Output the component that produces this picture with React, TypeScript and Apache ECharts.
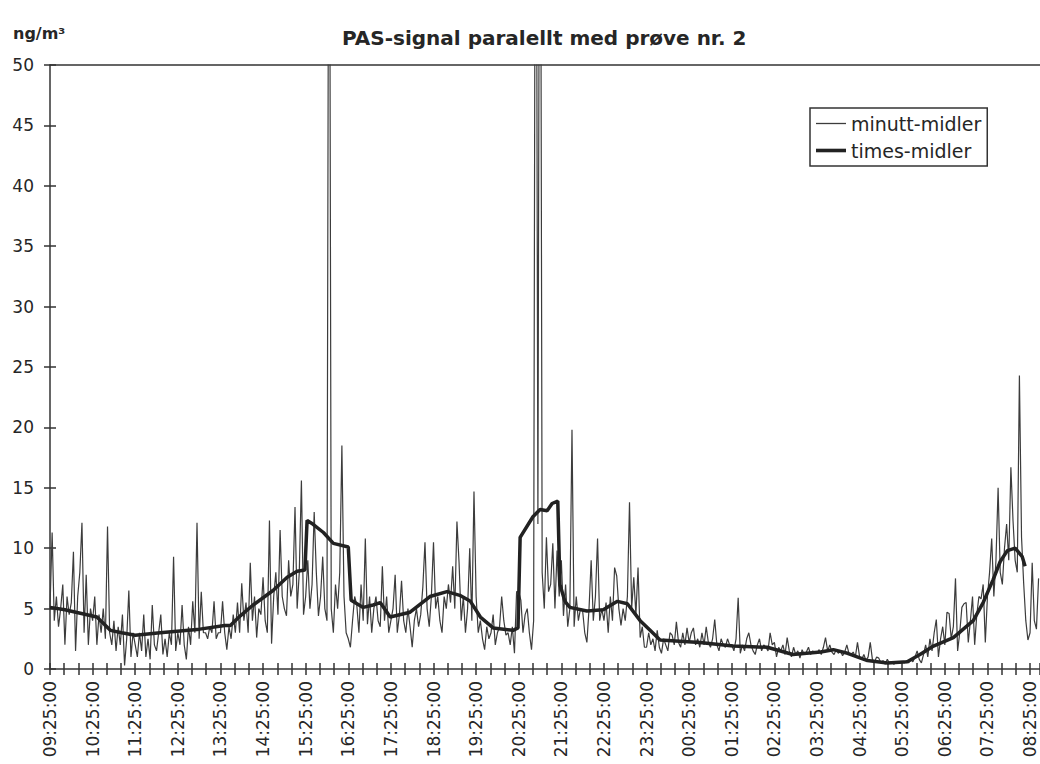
import React, { useEffect, useRef } from "react";
import * as echarts from "echarts";

const titleText = "PAS-signal paralellt med prøve nr. 2";
const unitText = "ng/m³";
const seriesNames = ["minutt-midler", "times-midler"];
const startClockMinutes = 9 * 60 + 25; // 09:25:00
const minuteStep = 3; // spacing (minutes) of the values
const axisMaxMinutes = 1394;
const tickEveryMinutes = 20;
const yMax = 50;
const yStep = 5;

// minutt-midler, one row per hour starting 09:25
const minuteValues = [
  5, 11.3, 4, 6, 3.5, 5, 7, 2, 6, 4.5, 5.5, 9.7, 1.5, 6, 8, 12.1, 3, 7.8, 2, 5,
  4, 6, 2, 4.5, 3, 5, 2.5, 11.8, 3, 2, 4, 1.5, 3.5, 2, 4.5, 0.3, 2.5, 6.5, 1, 3,
  2, 1, 3, 1.5, 4.5, 1, 2.5, 0.8, 5.3, 2, 1.5, 3, 4.5, 1.2, 2.5, 1, 3, 2, 9.3, 1.5,
  3, 2, 5.3, 2, 0.8, 3.5, 2, 5.6, 3, 12.1, 2.5, 6.4, 3, 3, 2.5, 3.5, 3, 5.6, 2.5, 3,
  3, 5.6, 3, 1.6, 3.5, 2.5, 4.5, 3, 5.5, 3, 7.1, 4, 5.5, 3, 8.8, 4, 6, 2.6, 5, 4.5,
  7.6, 4, 3, 12.3, 2.1, 6, 8, 4.5, 11.5, 6, 5, 4.4, 9, 6, 7, 13.4, 5, 8, 15.6, 4.5,
  6, 9, 5, 7, 13, 8, 4.4, 6, 9.3, 5, 4, 85, 5, 3, 7, 5, 8, 18.5, 6, 3,
  2.5, 1.8, 4, 6, 5.3, 3, 7, 4, 10.8, 3.7, 6, 3, 5, 6, 4, 3.5, 8.5, 4, 6, 3,
  4, 5, 7.8, 3, 4.5, 7.3, 4, 3, 5, 3.5, 1.8, 4, 5, 3.5, 4.5, 6.8, 10.5, 5, 3.5, 6,
  10.5, 5, 6, 4, 3, 6, 5, 7, 5.5, 8.5, 5, 12.2, 8.8, 4, 6, 3, 5, 10, 4, 14.7,
  6, 3, 4, 2.5, 1.6, 3.5, 2.5, 3, 4.5, 2, 3, 3.5, 6, 4, 2.8, 3, 2, 3.5, 1.3, 6.4,
  6.4, 5.7, 3, 4.5, 5, 3, 1.6, 4, 90, 12, 90, 8, 5, 10.9, 6.4, 7, 10.4, 5, 9.8, 6,
  9, 4.4, 7, 3.5, 5, 19.8, 3.5, 6, 4, 5, 4.8, 3, 2.2, 5, 9, 4, 6, 10.8, 4, 5,
  4, 5.5, 3, 6, 4, 8.4, 7.7, 5, 3.6, 5, 4, 6, 13.8, 5, 7.6, 4.5, 8.4, 2.6, 3.5, 1.8,
  1.8, 3, 2, 2.5, 1.5, 3.2, 1.8, 1.3, 2.5, 2, 1.5, 3, 2.8, 2, 3.9, 2.2, 1.8, 3, 2, 3.4,
  2.2, 3, 3.4, 2, 2.5, 1.8, 3, 2, 3.5, 2.2, 1.8, 2.5, 4.1, 2, 1.5, 2.5, 2, 1.8, 2.5, 2,
  2, 1.5, 2.5, 5.9, 1.3, 2, 1.5, 2.5, 3, 2, 1.5, 1.2, 2, 2.5, 1.5, 2, 1.8, 1.5, 3, 2,
  2.2, 1, 1.8, 1.5, 2, 1.2, 2.6, 1.5, 1, 1.8, 1.2, 1.5, 0.9, 1.6, 1.2, 1.4, 1.8, 1.2, 1.5, 1.3,
  1.3, 1.6, 1.2, 1.8, 2.6, 1.5, 2, 1.4, 1.2, 1.6, 1.3, 1.5, 1.1, 1.4, 2, 1.3, 1.2, 1.4, 1, 2.2,
  1, 0.8, 1.2, 0.7, 1, 2.2, 0.8, 0.6, 1, 0.9, 0.5, 0.7, 0.4, 0.8, 0.5, 0.6, 0.4, 0.5, 0.6, 0.5,
  0.6, 0.5, 0.7, 0.5, 0.8, 0.6, 1, 1.5, 0.8, 0.5, 1.2, 2, 1, 2.5, 1.5, 3, 4.1, 1, 2.5, 3.5,
  2, 4.7, 4.6, 2.5, 3.5, 7.5, 1.5, 3, 5.1, 5.4, 5.5, 2.2, 4, 6, 2, 4.5, 6, 5.8, 7, 2.2,
  6, 8, 10.8, 6, 9, 15, 8, 7, 10, 12, 9, 16.7, 12.3, 9, 8, 24.3, 10.9, 7.1, 4, 2.4,
  3, 8.8, 4, 3.3, 7.5,
];

// times-midler: minutes after 09:25 and values
const hourTimes = [
  0, 21, 66, 85, 101, 120, 155, 211, 246, 254, 268, 286, 314, 334, 348, 359, 362, 370,
  385, 399, 420, 424, 441, 455, 465, 479, 507, 535, 559, 577, 592, 606, 624, 652, 659,
  662, 680, 690, 700, 707, 715, 718, 725, 732, 756, 779, 799, 813, 831, 845, 859, 915,
  962, 1010, 1046, 1085, 1103, 1123, 1151, 1179, 1207, 1225, 1244, 1272, 1300, 1314,
  1328, 1338, 1348, 1359, 1369, 1373,
];
const hourValues = [
  5.1, 4.9, 4.3, 3.2, 3.0, 2.8, 3.0, 3.3, 3.6, 3.6, 4.4, 5.3, 6.5, 7.6, 8.1, 8.2, 12.3, 12.0,
  11.3, 10.4, 10.1, 5.7, 5.1, 5.3, 5.5, 4.3, 4.7, 6.0, 6.4, 6.1, 5.6, 4.3, 3.4, 3.2, 3.4,
  10.9, 12.6, 13.2, 13.1, 13.7, 13.9, 7.0, 5.6, 5.1, 4.8, 4.9, 5.6, 5.4, 4.0, 3.2, 2.4, 2.2,
  1.9, 1.8, 1.2, 1.4, 1.6, 1.3, 0.7, 0.5, 0.6, 1.2, 1.9, 2.6, 4.0, 5.5,
  7.4, 8.9, 9.8, 10.0, 9.3, 8.5,
];

const FONT = "'DejaVu Sans', Arial, sans-serif";
const INK = "#262626";
const AXIS = "#333333";
const THIN = "#3c3c3c";
const THICK = "#222222";

function pad(n: number) {
  return n < 10 ? "0" + n : String(n);
}

function clockLabel(v: number) {
  if (v % 60 !== 0) return "";
  const m = (startClockMinutes + v) % 1440;
  return `${pad(Math.floor(m / 60))}:${pad(m % 60)}:00`;
}

export default function App() {
  const ref = useRef<HTMLDivElement>(null);

  useEffect(() => {
    if (!ref.current) return;
    const chart = echarts.init(ref.current, undefined, { renderer: "svg" });

    const minuteData = minuteValues.map((v, i) => [i * minuteStep, v]);
    const hourData = hourValues.map((v, i) => [hourTimes[i], v]);

    const baseX = {
      type: "value" as const,
      min: 0,
      max: axisMaxMinutes,
      interval: tickEveryMinutes,
      splitLine: { show: false },
    };
    const baseY = {
      type: "value" as const,
      min: 0,
      max: yMax,
      interval: yStep,
      splitLine: { show: false },
    };

    chart.setOption({
      animation: false,
      backgroundColor: "#ffffff",
      title: [
        {
          text: titleText,
          left: 342,
          top: 28,
          padding: 0,
          textStyle: { fontFamily: FONT, fontWeight: "bold", fontSize: 20, color: INK },
        },
        {
          text: unitText,
          left: 13,
          top: 25,
          padding: 0,
          textStyle: { fontFamily: FONT, fontWeight: "bold", fontSize: 16, color: INK },
        },
      ],
      legend: {
        data: [
          { name: seriesNames[0], icon: "path://M0,0H30V1.3H0Z" },
          { name: seriesNames[1], icon: "path://M0,0H30V3.6H0Z" },
        ],
        orient: "vertical",
        left: 810,
        top: 108,
        padding: [6, 6, 6, 6],
        itemGap: 8,
        itemWidth: 30,
        itemHeight: 14,
        symbolKeepAspect: true,
        borderColor: AXIS,
        borderWidth: 1.5,
        textStyle: { fontFamily: FONT, fontSize: 19, color: INK },
      },
      grid: { left: 50, right: 0, top: 65, bottom: 95 },
      xAxis: [
        {
          ...baseX,
          position: "bottom",
          axisLine: { show: true, onZero: false, lineStyle: { color: AXIS, width: 1.5 } },
          axisTick: { show: true, inside: false, length: 6, lineStyle: { color: AXIS, width: 1.5 } },
          axisLabel: {
            rotate: 90,
            margin: 12,
            fontFamily: FONT,
            fontSize: 17,
            color: INK,
            formatter: clockLabel,
          },
        },
        {
          ...baseX,
          position: "bottom",
          axisLine: { show: false, onZero: false },
          axisTick: { show: true, inside: true, length: 6, lineStyle: { color: AXIS, width: 1.5 } },
          axisLabel: { show: false },
        },
        {
          ...baseX,
          position: "top",
          axisLine: { show: true, onZero: false, lineStyle: { color: AXIS, width: 1.5 } },
          axisTick: { show: false },
          axisLabel: { show: false },
        },
      ],
      yAxis: [
        {
          ...baseY,
          position: "left",
          axisLine: { show: true, onZero: false, lineStyle: { color: AXIS, width: 1.5 } },
          axisTick: { show: true, inside: false, length: 6, lineStyle: { color: AXIS, width: 1.5 } },
          axisLabel: { margin: 16, fontFamily: FONT, fontSize: 17, color: INK },
        },
        {
          ...baseY,
          position: "left",
          axisLine: { show: false, onZero: false },
          axisTick: { show: true, inside: true, length: 6, lineStyle: { color: AXIS, width: 1.5 } },
          axisLabel: { show: false },
        },
      ],
      series: [
        {
          name: seriesNames[0],
          type: "line",
          xAxisIndex: 0,
          yAxisIndex: 0,
          data: minuteData,
          symbol: "none",
          showSymbol: false,
          clip: true,
          color: THIN,
          lineStyle: { color: THIN, width: 1.2 },
          z: 2,
        },
        {
          name: seriesNames[1],
          type: "line",
          xAxisIndex: 0,
          yAxisIndex: 0,
          data: hourData,
          symbol: "none",
          showSymbol: false,
          clip: true,
          color: THICK,
          lineStyle: { color: THICK, width: 3.5 },
          z: 3,
        },
      ],
    });

    return () => chart.dispose();
  }, []);

  return (
    <div
      ref={ref}
      style={{ position: "absolute", left: 0, top: 0, width: 1040, height: 764, background: "#fff" }}
    />
  );
}
